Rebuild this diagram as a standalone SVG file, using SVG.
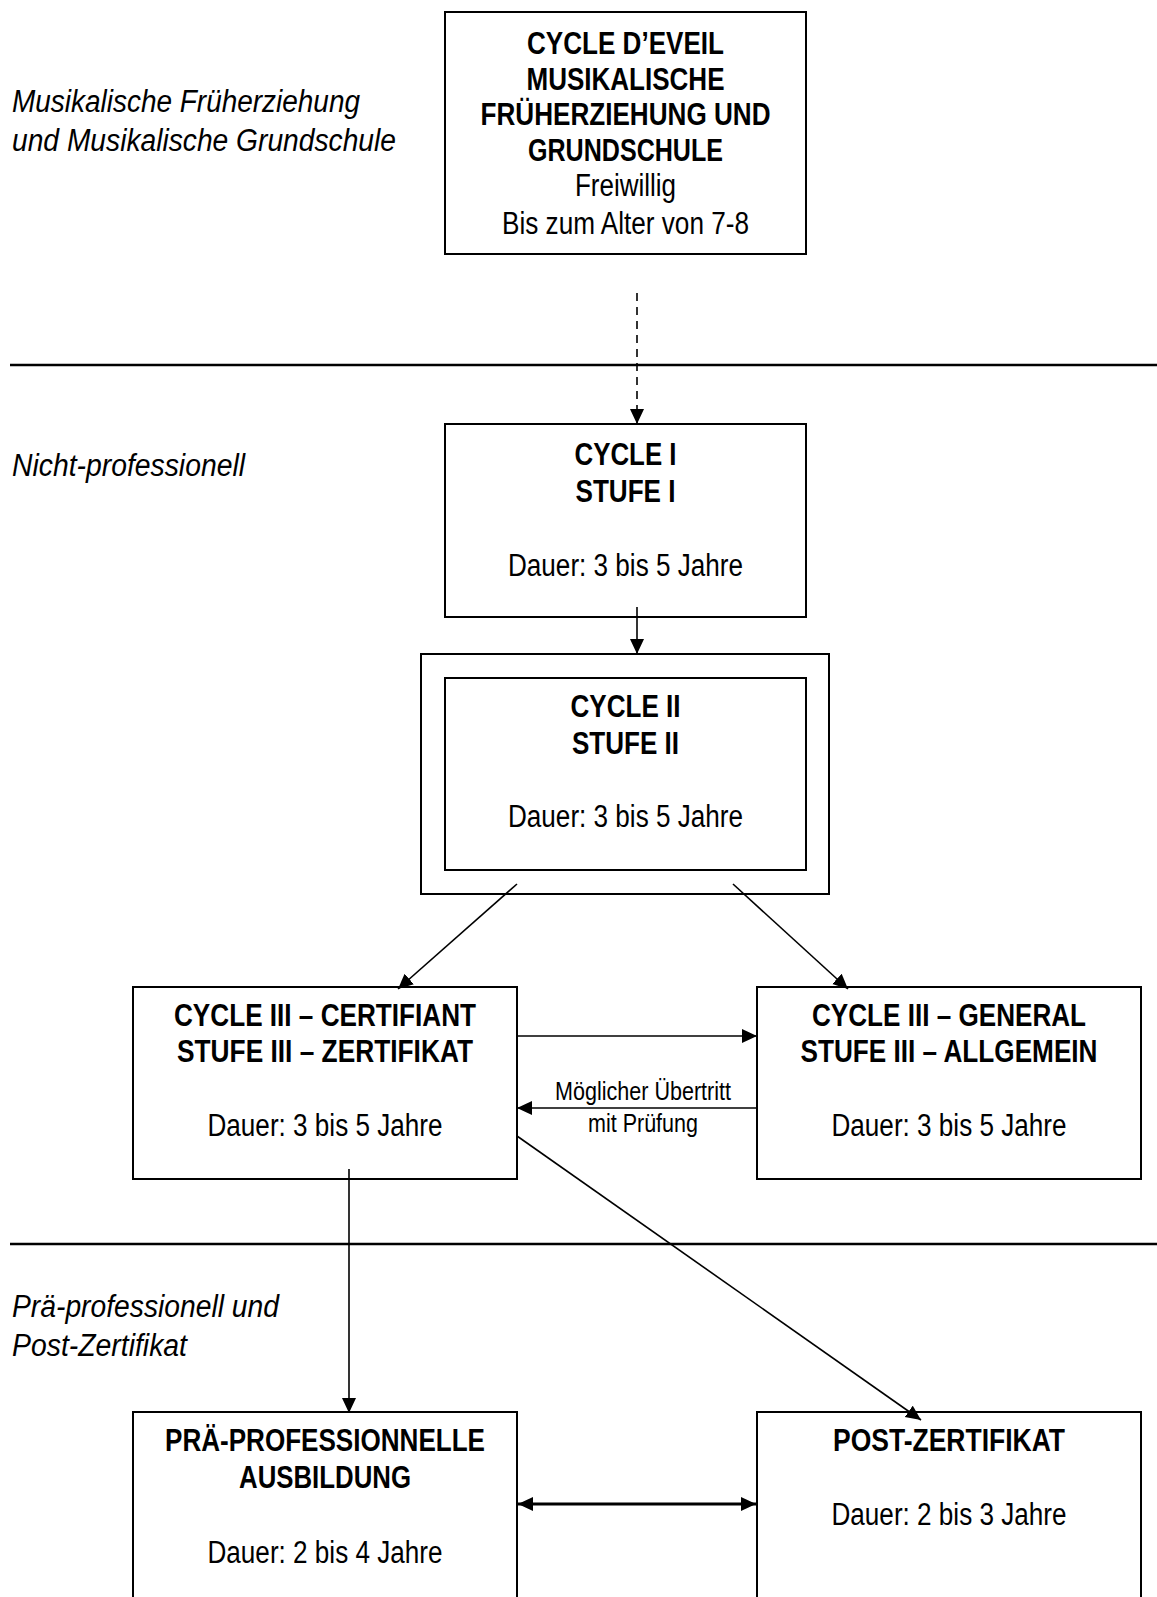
<svg xmlns="http://www.w3.org/2000/svg" width="1157" height="1597" viewBox="0 0 1157 1597">
<style>
.box{fill:#fff;stroke:#000;stroke-width:2}
.sep{stroke:#000;stroke-width:2.5}
.con{fill:none;stroke:#000;stroke-width:1.6}
.t{font-family:"Liberation Sans",Arial,sans-serif;font-size:31px;fill:#000;text-anchor:middle}
.b{font-weight:bold}
.lab{font-family:"Liberation Sans",Arial,sans-serif;font-size:31px;font-style:italic;fill:#000}
.small{font-family:"Liberation Sans",Arial,sans-serif;font-size:25px;fill:#000;text-anchor:middle}
</style>
<defs>
<marker id="ah" markerUnits="userSpaceOnUse" markerWidth="16" markerHeight="15" refX="15" refY="7" orient="auto-start-reverse">
<path d="M0,0 L15,7 L0,14 z" fill="#000"/>
</marker>
</defs>
<rect width="1157" height="1597" fill="#fff"/>

<g id="section-lines">
<line class="sep" x1="10" y1="365" x2="1157" y2="365"/>
<line class="sep" x1="10" y1="1244" x2="1157" y2="1244"/>
</g>

<g id="section-labels">
<text class="lab" x="12" y="112" textLength="348" lengthAdjust="spacingAndGlyphs">Musikalische Früherziehung</text>
<text class="lab" x="12" y="151" textLength="384" lengthAdjust="spacingAndGlyphs">und Musikalische Grundschule</text>
<text class="lab" x="12" y="476" textLength="233" lengthAdjust="spacingAndGlyphs">Nicht-professionell</text>
<text class="lab" x="12" y="1317" textLength="267" lengthAdjust="spacingAndGlyphs">Prä-professionell und</text>
<text class="lab" x="12" y="1356" textLength="175" lengthAdjust="spacingAndGlyphs">Post-Zertifikat</text>
</g>

<g id="node-eveil">
<rect class="box" x="445" y="12" width="361" height="242"/>
<text class="t b" x="625.5" y="54" textLength="197" lengthAdjust="spacingAndGlyphs">CYCLE D’EVEIL</text>
<text class="t b" x="625.5" y="89.5" textLength="198" lengthAdjust="spacingAndGlyphs">MUSIKALISCHE</text>
<text class="t b" x="625.5" y="125" textLength="290" lengthAdjust="spacingAndGlyphs">FRÜHERZIEHUNG UND</text>
<text class="t b" x="625.5" y="160.5" textLength="195" lengthAdjust="spacingAndGlyphs">GRUNDSCHULE</text>
<text class="t" x="625.5" y="196" textLength="101" lengthAdjust="spacingAndGlyphs">Freiwillig</text>
<text class="t" x="625.5" y="234" textLength="247" lengthAdjust="spacingAndGlyphs">Bis zum Alter von 7-8</text>
</g>

<g id="node-cycle1">
<rect class="box" x="445" y="424" width="361" height="193"/>
<text class="t b" x="625.5" y="465" textLength="102" lengthAdjust="spacingAndGlyphs">CYCLE I</text>
<text class="t b" x="625.5" y="501.5" textLength="100" lengthAdjust="spacingAndGlyphs">STUFE I</text>
<text class="t" x="625.5" y="576" textLength="235" lengthAdjust="spacingAndGlyphs">Dauer: 3 bis 5 Jahre</text>
</g>

<g id="node-cycle2">
<rect class="box" x="421" y="654" width="408" height="240"/>
<rect class="box" x="445" y="678" width="361" height="192"/>
<text class="t b" x="625.5" y="717" textLength="110" lengthAdjust="spacingAndGlyphs">CYCLE II</text>
<text class="t b" x="625.5" y="753.5" textLength="107" lengthAdjust="spacingAndGlyphs">STUFE II</text>
<text class="t" x="625.5" y="827" textLength="235" lengthAdjust="spacingAndGlyphs">Dauer: 3 bis 5 Jahre</text>
</g>

<g id="node-certifiant">
<rect class="box" x="133" y="987" width="384" height="192"/>
<text class="t b" x="325" y="1026" textLength="302" lengthAdjust="spacingAndGlyphs">CYCLE III – CERTIFIANT</text>
<text class="t b" x="325" y="1062" textLength="296" lengthAdjust="spacingAndGlyphs">STUFE III – ZERTIFIKAT</text>
<text class="t" x="325" y="1136" textLength="235" lengthAdjust="spacingAndGlyphs">Dauer: 3 bis 5 Jahre</text>
</g>

<g id="node-general">
<rect class="box" x="757" y="987" width="384" height="192"/>
<text class="t b" x="949" y="1026" textLength="274" lengthAdjust="spacingAndGlyphs">CYCLE III – GENERAL</text>
<text class="t b" x="949" y="1062" textLength="297" lengthAdjust="spacingAndGlyphs">STUFE III – ALLGEMEIN</text>
<text class="t" x="949" y="1136" textLength="235" lengthAdjust="spacingAndGlyphs">Dauer: 3 bis 5 Jahre</text>
</g>

<g id="node-praeprof">
<rect class="box" x="133" y="1412" width="384" height="260"/>
<text class="t b" x="325" y="1451" textLength="320" lengthAdjust="spacingAndGlyphs">PRÄ-PROFESSIONNELLE</text>
<text class="t b" x="325" y="1488" textLength="172" lengthAdjust="spacingAndGlyphs">AUSBILDUNG</text>
<text class="t" x="325" y="1563" textLength="235" lengthAdjust="spacingAndGlyphs">Dauer: 2 bis 4 Jahre</text>
</g>

<g id="node-postzert">
<rect class="box" x="757" y="1412" width="384" height="260"/>
<text class="t b" x="949" y="1451" textLength="232" lengthAdjust="spacingAndGlyphs">POST-ZERTIFIKAT</text>
<text class="t" x="949" y="1525" textLength="235" lengthAdjust="spacingAndGlyphs">Dauer: 2 bis 3 Jahre</text>
</g>

<g id="connectors">
<line class="con" x1="637" y1="293" x2="637" y2="424" stroke-dasharray="8,6" marker-end="url(#ah)"/>
<line class="con" x1="637" y1="607" x2="637" y2="654" marker-end="url(#ah)"/>
<line class="con" x1="517" y1="884" x2="398" y2="989" marker-end="url(#ah)"/>
<line class="con" x1="733" y1="884" x2="848" y2="989" marker-end="url(#ah)"/>
<line class="con" x1="517" y1="1036" x2="757" y2="1036" marker-end="url(#ah)"/>
<line class="con" x1="757" y1="1108" x2="517" y2="1108" marker-end="url(#ah)"/>
<line class="con" x1="349" y1="1169" x2="349" y2="1413" marker-end="url(#ah)"/>
<line class="con" x1="517" y1="1136" x2="921" y2="1420" marker-end="url(#ah)"/>
<line class="con" x1="518" y1="1504" x2="756" y2="1504" style="stroke-width:3" marker-start="url(#ah)" marker-end="url(#ah)"/>
<text class="small" x="643" y="1100" textLength="176" lengthAdjust="spacingAndGlyphs">Möglicher Übertritt</text>
<text class="small" x="643" y="1132" textLength="110" lengthAdjust="spacingAndGlyphs">mit Prüfung</text>
</g>
</svg>
